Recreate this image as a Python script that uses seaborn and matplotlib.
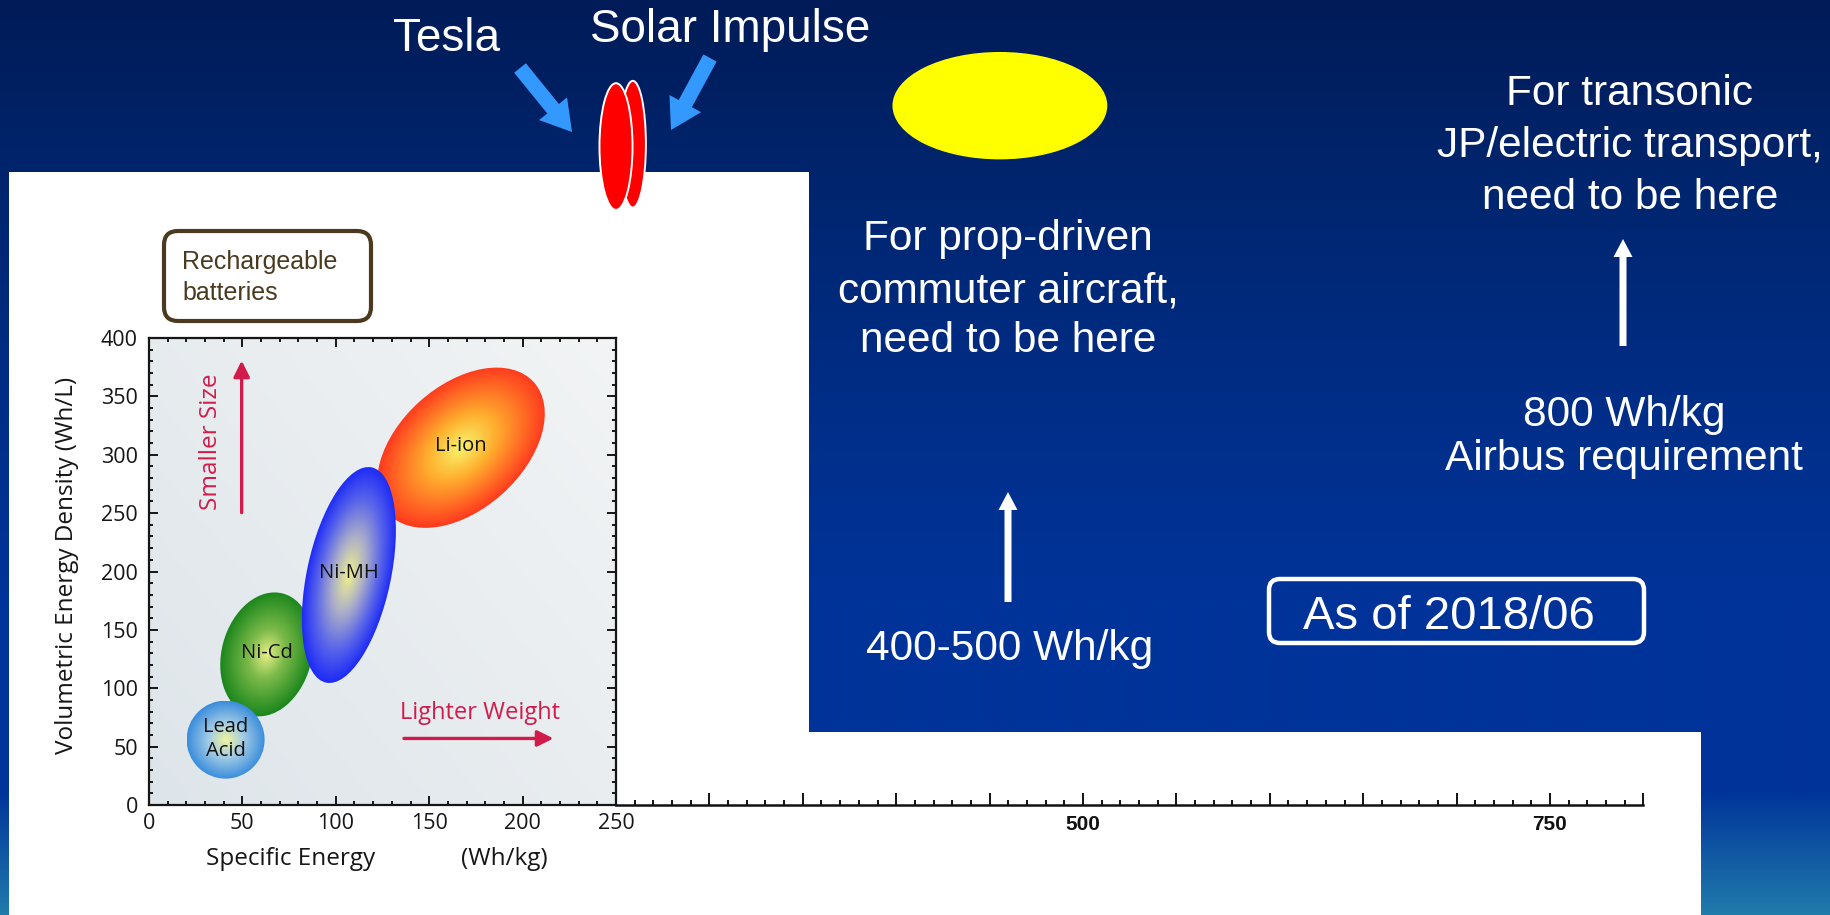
import numpy as np
import matplotlib
matplotlib.use("Agg")
import matplotlib.pyplot as plt
import seaborn as sns
from matplotlib.patches import Ellipse, Polygon, FancyBboxPatch, FancyArrow
from matplotlib.transforms import Affine2D, ScaledTranslation
from matplotlib.ticker import MultipleLocator, FixedLocator
from matplotlib.colors import to_rgb

# ---- data -------------------------------------------------------------
chemistries = ["Lead\nAcid", "Ni-Cd", "Ni-MH", "Li-ion"]
specific_energy = [41, 63, 107, 167]        # Wh/kg, centre of each region
energy_density = [56, 129, 197, 306]        # Wh/L, centre of each region

cell_names = ["Solar Impulse", "Tesla"]
cell_energy = [259, 250]                    # Wh/kg
cell_level = [566, 564]                     # drawn above the chart frame
commuter_band = [398, 513]                  # Wh/kg
commuter_level = 599

x_ticks = [0, 50, 100, 150, 200, 250]
y_ticks = [0, 50, 100, 150, 200, 250, 300, 350, 400]
ext_ticks = [250, 300, 350, 400, 450, 500, 550, 600, 650, 700, 750, 800]
ext_tick_labels = ["", "", "", "", "", "500", "", "", "", "", "750", ""]

# ---- styles -------------------------------------------------------------
# semi-axes (pixels) and tilt (degrees) of each chemistry region
region_shape = [(39, 39, 0), (63, 45, 75), (110, 42, 78), (98, 62, 42)]
region_stops = [
    [(0.0, "#f0f39c"), (0.45, "#a2cbe6"), (1.0, "#3a8ddc")],
    [(0.0, "#e8ef88"), (0.40, "#7cba4a"), (1.0, "#1a861c")],
    [(0.0, "#f0f28c"), (0.35, "#adafc8"), (0.70, "#5864ea"), (1.0, "#1e2bf6")],
    [(0.0, "#f8f46c"), (0.40, "#ffb02e"), (1.0, "#ff3a1e")],
]
region_z = [4, 2, 3, 1]

W, H = 1831, 915
sns.set_theme(style="ticks")
plt.rcParams["font.family"] = ["Liberation Sans", "DejaVu Sans"]
CHART_FONT = ["Open Sans", "DejaVu Sans"]
RED = "#d11c4b"
INK = "#161616"

fig = plt.figure(figsize=(W / 100, H / 100), dpi=100)

# ---- slide background (pixel coordinates) -------------------------------
bg = fig.add_axes([0, 0, 1, 1], zorder=0)
bg.set_xlim(0, W)
bg.set_ylim(H, 0)
bg.set_autoscale_on(False)
bg.axis("off")
stops_y = [0, 200, 450, 600, 790, 915]
stops_c = np.array([(0, 27, 87), (0, 38, 112), (0, 47, 140), (0, 51, 153),
                    (0, 51, 153), (33, 124, 172)]) / 255
ys = np.arange(H)
grad = np.stack([np.interp(ys, stops_y, stops_c[:, i]) for i in range(3)], axis=-1)
bg.imshow(grad[:, None, :], extent=(0, W, H, 0), aspect="auto",
          interpolation="bilinear", zorder=0)
bg.add_patch(Polygon([(9, 172), (809, 172), (809, 732), (1701, 732),
                      (1701, H), (9, H)], closed=True, fc="white", ec="none", zorder=1))

# slide captions
txt = dict(color="white", ha="center", va="baseline", zorder=5)
bg.text(447, 51, "Tesla", fontsize=33, **txt)
bg.text(730, 42, "Solar Impulse", fontsize=33, **txt)
for y, line in zip([250, 302, 352], ["For prop-driven", "commuter aircraft,", "need to be here"]):
    bg.text(1008, y, line, fontsize=30.5, **txt)
bg.text(1010, 660, "400-500 Wh/kg", fontsize=30.5, **txt)
for y, line in zip([105, 157, 209], ["For transonic", "JP/electric transport,", "need to be here"]):
    bg.text(1630, y, line, fontsize=30.5, **txt)
for y, line in zip([426, 470], ["800 Wh/kg", "Airbus requirement"]):
    bg.text(1624, y, line, fontsize=30.5, **txt)

# pointer arrows
bg.add_patch(FancyArrow(520, 68, 52, 64, width=15, head_width=36, head_length=30,
                        length_includes_head=True, color="#3399ff", lw=0, zorder=4))
bg.add_patch(FancyArrow(710, 58, -39, 72, width=15, head_width=36, head_length=30,
                        length_includes_head=True, color="#3399ff", lw=0, zorder=4))
bg.add_patch(FancyArrow(1008, 602, 0, -110, width=7, head_width=19, head_length=18,
                        length_includes_head=True, color="white", lw=0, zorder=4))
bg.add_patch(FancyArrow(1623, 346, 0, -107, width=7, head_width=19, head_length=18,
                        length_includes_head=True, color="white", lw=0, zorder=4))

# date box
bg.add_patch(FancyBboxPatch((1269, 579), 375, 64, boxstyle="round,pad=0,rounding_size=11",
                            fc="none", ec="white", lw=3.2, zorder=4))
bg.text(1449, 629, "As of 2018/06", fontsize=34, **txt)

# chart title box
bg.add_patch(FancyBboxPatch((164, 231), 207, 90, boxstyle="round,pad=0,rounding_size=14",
                            fc="white", ec="#4b3a1f", lw=3, zorder=4))
bg.text(182, 269, "Rechargeable", fontsize=18, color="#4a3a1f", ha="left", va="baseline", zorder=5)
bg.text(182, 300, "batteries", fontsize=18, color="#4a3a1f", ha="left", va="baseline", zorder=5)

# ---- extended specific-energy axis ----------------------------------------
x0, y0, ppx, ppy = 149, 805, 467 / 250, 467 / 400
ext = fig.add_axes([x0 / W, (H - y0) / H, 800 * ppx / W, 400 * ppy / H], zorder=2)
ext.set_facecolor("none")
ext.set_xlim(0, 800)
ext.set_ylim(0, 400)
ext.set_autoscale_on(False)
sns.despine(ax=ext, left=True)
ext.spines["bottom"].set_bounds(250, 800)
ext.spines["bottom"].set_linewidth(1.8)
ext.spines["bottom"].set_color("#111111")
ext.set_yticks([])
ext.xaxis.set_major_locator(FixedLocator(ext_ticks))
ext.set_xticklabels(ext_tick_labels)
ext.xaxis.set_minor_locator(FixedLocator([v for v in range(250, 800, 10) if v % 50]))
ext.tick_params(axis="x", which="both", direction="in", color="#111111", width=1.4, pad=7)
ext.tick_params(axis="x", which="major", length=8.6)
ext.tick_params(axis="x", which="minor", length=3.6)
for lab in ext.get_xticklabels():
    lab.set_fontfamily(["Liberation Sans Narrow", "Liberation Sans", "DejaVu Sans"])
    lab.set_fontweight("bold")
    lab.set_fontsize(15)
    lab.set_color("#111111")

# battery levels reached and targets
for name, e, lv, w in zip(cell_names, cell_energy, cell_level, [14, 17.7]):
    ext.add_patch(Ellipse((e, lv), w, 108.5, fc="#ff0000", ec="white", lw=1.4,
                          clip_on=False, zorder=5))
ext.add_patch(Ellipse((np.mean(commuter_band), commuter_level), commuter_band[1] - commuter_band[0],
                      92, fc="#ffff00", ec="none", clip_on=False, zorder=5))

# ---- battery chemistry chart ----------------------------------------------
ax = fig.add_axes([x0 / W, (H - y0) / H, 250 * ppx / W, 400 * ppy / H], zorder=3)
ax.set_xlim(0, 250)
ax.set_ylim(0, 400)
ax.set_autoscale_on(False)
ax.set_axisbelow(False)

gx, gy = np.meshgrid(np.linspace(0, 1, 64), np.linspace(0, 1, 64))
t = 0.55 * gx + 0.45 * gy
c0, c1 = np.array([222, 229, 234]) / 255, np.array([242, 244, 245]) / 255
ax.imshow(c0 + (c1 - c0) * t[..., None], extent=(0, 250, 0, 400), origin="lower",
          aspect="auto", interpolation="bilinear", zorder=-1)


def gradient_region(cx, cy, a, b, ang, stops, z):
    tr = Affine2D().rotate_deg(ang) + ScaledTranslation(cx, cy, ax.transData)
    clip = Ellipse((0, 0), 2 * a, 2 * b, transform=tr, fc="none", ec="none")
    ax.add_patch(clip)
    n = 300
    U, V = np.meshgrid(np.linspace(-a, a, n), np.linspace(-b, b, n))
    r = np.clip(np.hypot(U / a, V / b), 0, 1)
    pos = [s[0] for s in stops]
    cols = np.array([to_rgb(s[1]) for s in stops])
    img = np.stack([np.interp(r, pos, cols[:, i]) for i in range(3)], axis=-1)
    im = ax.imshow(img, extent=(-a, a, -b, b), origin="lower", transform=tr,
                   interpolation="bilinear", aspect="auto", zorder=z)
    im.set_clip_path(clip)


for name, xe, yd, (a, b, ang), stops, z in zip(chemistries, specific_energy, energy_density,
                                                region_shape, region_stops, region_z):
    gradient_region(xe, yd, a, b, ang, stops, z)
    lines = name.split("\n")
    offs = [11, -10] if len(lines) == 2 else [1.5]
    for line, dy in zip(lines, offs):
        ax.text(xe, yd + dy, line, fontsize=14.5, color="#111111", ha="center", va="center",
                family=CHART_FONT, zorder=10)

# direction hints
ax.annotate("", xy=(49.6, 383), xytext=(49.6, 248),
            arrowprops=dict(arrowstyle="-|>", color=RED, lw=2.4, mutation_scale=24), zorder=10)
ax.text(33.3, 311, "Smaller Size", rotation=90, fontsize=17.5, color=RED, ha="center",
        va="center", family=CHART_FONT, zorder=10)
ax.annotate("", xy=(218, 57), xytext=(135, 57),
            arrowprops=dict(arrowstyle="-|>", color=RED, lw=2.4, mutation_scale=24), zorder=10)
ax.text(177, 78.6, "Lighter Weight", fontsize=17, color=RED, ha="center",
        va="center", family=CHART_FONT, zorder=10)

for sp in ax.spines.values():
    sp.set_color(INK)
    sp.set_linewidth(1.6)
ax.set_xticks(x_ticks)
ax.set_yticks(y_ticks)
ax.xaxis.set_minor_locator(MultipleLocator(10))
ax.yaxis.set_minor_locator(MultipleLocator(10))
ax.tick_params(which="both", direction="in", top=True, right=True, color=INK, width=1.4)
ax.tick_params(which="major", length=6.5)
ax.tick_params(which="minor", length=3.2)
ax.tick_params(axis="x", which="major", pad=6)
ax.tick_params(axis="y", which="major", pad=8)
for lab in ax.get_xticklabels() + ax.get_yticklabels():
    lab.set_fontfamily(CHART_FONT)
    lab.set_fontsize(15.5)
    lab.set_color(INK)

ax.text(-44, 205, "Volumetric Energy Density (Wh/L)", rotation=90, fontsize=17.5,
        color=INK, ha="center", va="center", family=CHART_FONT, clip_on=False)
ax.text(76, -46, "Specific Energy", fontsize=17.5, color=INK, ha="center",
        va="center", family=CHART_FONT, clip_on=False)
ax.text(190, -46, "(Wh/kg)", fontsize=17.5, color=INK, ha="center",
        va="center", family=CHART_FONT, clip_on=False)

fig.savefig("out.png", dpi=100)
